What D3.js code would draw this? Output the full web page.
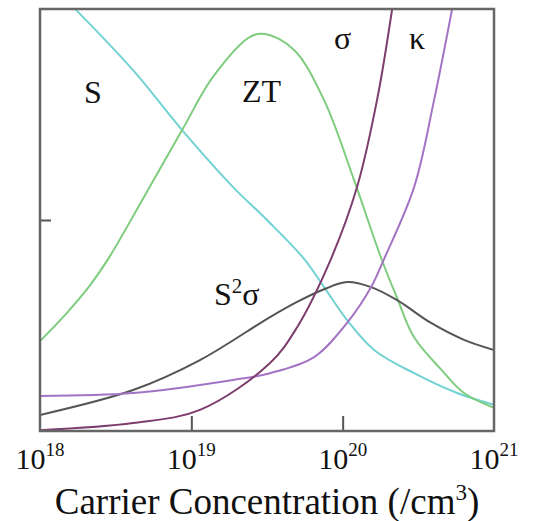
<!DOCTYPE html>
<html>
<head>
<meta charset="utf-8">
<script src="https://cdn.jsdelivr.net/npm/d3@7"></script>
<style>
  body { margin: 0; background: #fff; }
</style>
</head>
<body>
<svg id="chart"></svg>
<script>
// carrier concentration as log10(n / cm^-3), values in arbitrary units (0-100)
const seebeckN = [18.238, 18.615, 18.939, 19.276, 19.5, 19.745, 19.877, 20.029, 20.208, 20.472, 20.756, 21.0];
const seebeckV = [99.8, 85.5, 71.3, 57.8, 50.0, 40.8, 34.1, 26.3, 19.2, 13.7, 9.0, 6.2];

const ztN = [18.0, 18.178, 18.33, 18.463, 18.661, 18.939, 19.143, 19.388, 19.487, 19.679, 19.877, 20.075, 20.254, 20.36, 20.472, 20.65, 20.802, 21.0];
const ztV = [21.3, 28.0, 34.5, 41.5, 53.8, 71.3, 83.9, 93.4, 94.1, 90.3, 78.4, 59.5, 41.0, 31.5, 22.2, 14.6, 9.0, 5.5];

const sigmaN = [18.0, 18.615, 19.057, 19.52, 19.699, 19.923, 20.095, 20.227, 20.327];
const sigmaV = [0.2, 1.9, 5.0, 16.1, 24.6, 40.8, 57.8, 78.4, 100];

const kappaN = [18.0, 18.615, 19.276, 19.52, 19.811, 20.029, 20.188, 20.274, 20.472, 20.604, 20.723];
const kappaV = [8.3, 9.0, 12.1, 13.7, 17.5, 25.6, 34.1, 40.8, 57.8, 78.4, 100];

const pfN = [18.0, 18.615, 19.057, 19.52, 19.699, 19.877, 20.029, 20.188, 20.36, 20.584, 20.802, 21.0];
const pfV = [3.8, 9.7, 16.8, 27.0, 30.6, 33.6, 35.3, 34.1, 31.0, 25.6, 21.6, 19.2];

const tickExps = ["18", "19", "20", "21"];

const series = [
  { n: seebeckN, v: seebeckV, color: "#72d2d2" },
  { n: ztN, v: ztV, color: "#7fcc7f" },
  { n: pfN, v: pfV, color: "#555555" },
  { n: kappaN, v: kappaV, color: "#a374c4" },
  { n: sigmaN, v: sigmaV, color: "#7d3d6d" }
];

const serif = '"Liberation Serif", "Times New Roman", serif';

const width = 534, height = 521;
const margin = { top: 9, right: 40, bottom: 90, left: 40 };
const innerW = width - margin.left - margin.right;
const innerH = height - margin.top - margin.bottom;

const svg = d3.select("#chart")
  .attr("width", width)
  .attr("height", height);
const chart = svg.append("g").attr("transform", `translate(${margin.left}, ${margin.top})`);

const xscale = d3.scaleLog().domain([1e18, 1e21]).range([0, innerW]);
const yscale = d3.scaleLinear().domain([0, 100]).range([innerH, 0]);

chart.append("clipPath").attr("id", "plot-clip")
  .append("rect").attr("width", innerW).attr("height", innerH);

const line = d3.line()
  .x(d => xscale(Math.pow(10, d[0])))
  .y(d => yscale(d[1]))
  .curve(d3.curveCatmullRom.alpha(0.5));

chart.append("g").attr("clip-path", "url(#plot-clip)")
  .selectAll("path")
  .data(series)
  .join("path")
  .attr("d", s => line(d3.zip(s.n, s.v)))
  .attr("fill", "none")
  .attr("stroke", s => s.color)
  .attr("stroke-width", 2);

// inward ticks
const xaxis = d3.axisBottom(xscale)
  .tickValues([1e19, 1e20])
  .tickSizeInner(-15)
  .tickSizeOuter(0)
  .tickFormat("");
const xaxisGroup = chart.append("g").attr("transform", `translate(0, ${innerH})`).call(xaxis);

const yaxis = d3.axisLeft(yscale)
  .tickValues([50])
  .tickSizeInner(-11)
  .tickSizeOuter(0)
  .tickFormat("");
const yaxisGroup = chart.append("g").call(yaxis);

[xaxisGroup, yaxisGroup].forEach(g => {
  g.select(".domain").remove();
  g.selectAll(".tick line").attr("stroke", "#555").attr("stroke-width", 2);
});

chart.append("rect")
  .attr("width", innerW)
  .attr("height", innerH)
  .attr("fill", "none")
  .attr("stroke", "#666")
  .attr("stroke-width", 2.5);

// tick labels 10^n
const tickLabels = svg.selectAll("text.tick-label")
  .data(tickExps)
  .join("text")
  .attr("class", "tick-label")
  .attr("x", d => margin.left + xscale(Math.pow(10, +d)))
  .attr("y", 469)
  .attr("text-anchor", "middle")
  .style("font-family", serif)
  .style("font-size", "30px")
  .style("fill", "#111");
tickLabels.append("tspan").text("10");
tickLabels.append("tspan").attr("dy", -13).style("font-size", "19px").text(d => d);

// axis title
const title = svg.append("text")
  .attr("x", 267)
  .attr("y", 514)
  .attr("text-anchor", "middle")
  .style("font-family", serif)
  .style("font-size", "37px")
  .style("fill", "#111");
title.append("tspan").text("Carrier Concentration (/cm");
title.append("tspan").attr("dy", -14).style("font-size", "23px").text("3");
title.append("tspan").attr("dy", 14).text(")");

// curve names
const curveLabels = [
  { text: "S", x: 84, y: 103 },
  { text: "ZT", x: 242, y: 102 },
  { text: "σ", x: 334, y: 49 },
  { text: "κ", x: 409, y: 49 }
];
svg.selectAll("text.curve-label")
  .data(curveLabels)
  .join("text")
  .attr("class", "curve-label")
  .attr("x", d => d.x)
  .attr("y", d => d.y)
  .style("font-family", serif)
  .style("font-size", "32px")
  .style("fill", "#111")
  .text(d => d.text);

const pfLabel = svg.append("text")
  .attr("x", 214)
  .attr("y", 305)
  .style("font-family", serif)
  .style("font-size", "32px")
  .style("fill", "#111");
pfLabel.append("tspan").text("S");
pfLabel.append("tspan").attr("dy", -12).style("font-size", "21px").text("2");
pfLabel.append("tspan").attr("dy", 12).text("σ");
</script>
</body>
</html>
